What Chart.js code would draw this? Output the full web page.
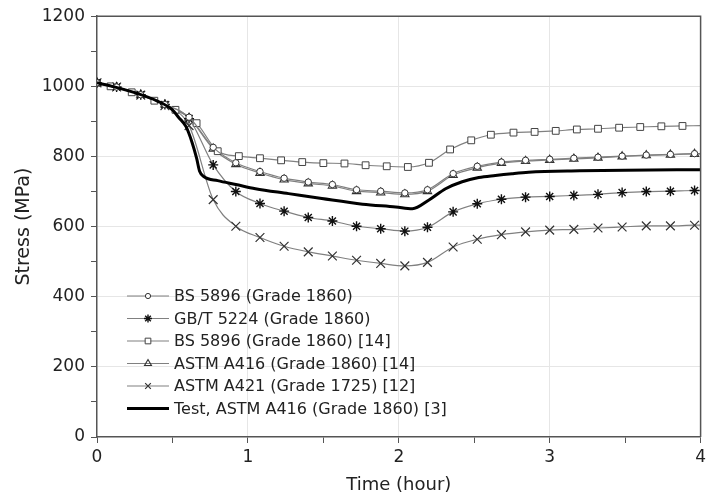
<!DOCTYPE html>
<html>
<head>
<meta charset="utf-8">
<script src="https://cdn.jsdelivr.net/npm/chart.js@4.4.1/dist/chart.umd.min.js"></script>
<style>
  html, body { margin: 0; padding: 0; background: #fff; }
  canvas { display: block; }
</style>
</head>
<body>
<canvas id="relaxChart" width="708" height="499"></canvas>
<script>
// tempos (h) dos modelos com marcadores
const hoursModel = [0, 0.13, 0.29, 0.45, 0.61, 0.77, 0.92, 1.08, 1.24, 1.40, 1.56, 1.72, 1.88, 2.04, 2.19, 2.36, 2.52, 2.68, 2.84, 3.00, 3.16, 3.32, 3.48, 3.64, 3.80, 3.96, 4.00];
const hoursSquare = [0, 0.09, 0.23, 0.38, 0.52, 0.66, 0.80, 0.94, 1.08, 1.22, 1.36, 1.50, 1.64, 1.78, 1.92, 2.06, 2.20, 2.34, 2.48, 2.61, 2.76, 2.90, 3.04, 3.18, 3.32, 3.46, 3.60, 3.74, 3.88, 4.00];
const hoursTest = [0, 0.1, 0.25, 0.4, 0.5, 0.54, 0.59, 0.63, 0.66, 0.68, 0.71, 0.8, 0.92, 1.05, 1.27, 1.49, 1.76, 1.98, 2.09, 2.2, 2.31, 2.42, 2.53, 2.64, 2.75, 2.86, 3.2, 3.5, 4.0];

// tensões (MPa)
const bs5896 = [1010, 998, 976, 948, 912, 826, 782, 757, 738, 727, 720, 705, 701, 696, 705, 751, 772, 784, 789, 792, 795, 798, 801, 804, 806, 808, 808];
const gbt5224 = [1010, 998, 976, 948, 908, 776, 700, 666, 644, 626, 616, 601, 594, 587, 598, 642, 665, 678, 684, 686, 689, 692, 697, 700, 701, 703, 703];
const bs5896Ref14 = [1010, 1000, 983, 959, 933, 895, 815, 801, 795, 789, 784, 781, 780, 775, 772, 770, 782, 820, 846, 862, 868, 870, 873, 877, 879, 882, 884, 886, 887, 888];
const astmA416 = [1010, 998, 976, 948, 910, 822, 778, 753, 734, 723, 716, 701, 697, 692, 701, 747, 768, 781, 787, 790, 793, 796, 800, 803, 805, 807, 807];
const astmA421 = [1010, 998, 975, 945, 888, 677, 601, 569, 544, 528, 516, 504, 495, 488, 498, 542, 564, 577, 585, 590, 592, 596, 599, 602, 602, 604, 604];
const testA416 = [1010, 1000, 982, 958, 933, 912, 885, 840, 795, 758, 742, 731, 720, 708, 694, 680, 664, 656, 651, 676, 708, 728, 740, 746, 751, 755, 759, 761, 762];

const seriesLabels = [
  'BS 5896 (Grade 1860)',
  'GB/T 5224 (Grade 1860)',
  'BS 5896 (Grade 1860) [14]',
  'ASTM A416 (Grade 1860) [14]',
  'ASTM A421 (Grade 1725) [12]',
  'Test, ASTM A416 (Grade 1860) [3]'
];
const xTickLabels = ['0', '1', '2', '3', '4'];

const FONT = "'DejaVu Sans', sans-serif";
const TXT = '#222';

const pts = (xs, ys) => xs.map((x, i) => ({ x: x, y: ys[i] }));

// estilo comum das curvas de modelo
function modelSet(label, xs, ys, style, radius, fill, border, bw) {
  return {
    label: label,
    data: pts(xs, ys),
    borderColor: '#808080',
    borderWidth: 1.2,
    pointStyle: style,
    pointRadius: ctx => (ctx.raw && ctx.raw.x >= 4 ? 0 : radius),
    pointBackgroundColor: fill,
    pointBorderColor: border,
    pointBorderWidth: bw,
    cubicInterpolationMode: 'monotone',
    order: 1
  };
}

const datasets = [
  modelSet(seriesLabels[0], hoursModel, bs5896, 'circle', 3.2, '#fff', '#333', 1),
  modelSet(seriesLabels[1], hoursModel, gbt5224, 'star', 5, '#111', '#111', 1.4),
  modelSet(seriesLabels[2], hoursSquare, bs5896Ref14, 'rect', 4.8, '#fff', '#444', 1),
  modelSet(seriesLabels[3], hoursModel, astmA416, 'triangle', 4.8, 'rgba(255,255,255,0)', '#333', 1.1),
  modelSet(seriesLabels[4], hoursModel, astmA421, 'crossRot', 6.2, '#333', '#333', 1.2),
  {
    label: seriesLabels[5],
    data: pts(hoursTest, testA416),
    borderColor: '#000',
    borderWidth: 3,
    pointRadius: 0,
    cubicInterpolationMode: 'monotone',
    order: 0
  }
];

// legenda desenhada dentro da área do gráfico + moldura superior/direita
const framePlugin = {
  id: 'frameLegend',
  afterDraw(chart) {
    const c = chart.ctx;
    const a = chart.chartArea;
    c.save();
    c.strokeStyle = '#555';
    c.lineWidth = 1.5;
    c.beginPath();
    c.moveTo(a.left, a.top);
    c.lineTo(a.right, a.top);
    c.lineTo(a.right, a.bottom);
    c.stroke();

    const x0 = 127, x1 = 169, tx = 174, y0 = 296, dy = 22.5;
    chart.data.datasets.forEach((ds, i) => {
      const y = y0 + i * dy;
      c.strokeStyle = ds.borderColor;
      c.lineWidth = ds.borderWidth;
      c.beginPath();
      c.moveTo(x0, y);
      c.lineTo(x1, y);
      c.stroke();
      if (ds.pointStyle) {
        c.fillStyle = ds.pointBackgroundColor;
        c.strokeStyle = ds.pointBorderColor;
        c.lineWidth = ds.pointBorderWidth;
        const r = ds.pointStyle === 'circle' ? 2.6 : 4;
        Chart.helpers.drawPoint(c, { pointStyle: ds.pointStyle, radius: r, rotation: 0, borderWidth: ds.pointBorderWidth }, (x0 + x1) / 2, y);
      }
      c.fillStyle = TXT;
      c.font = '16px ' + FONT;
      c.textBaseline = 'middle';
      c.textAlign = 'left';
      c.fillText(ds.label, tx, y + 1);
    });
    c.restore();
  }
};

const ctx = document.getElementById('relaxChart').getContext('2d');

const relaxChart = new Chart(ctx, {
  type: 'line',
  data: { datasets: datasets },
  options: {
    responsive: false,
    animation: false,
    devicePixelRatio: 1,
    layout: { padding: { top: 6, right: 0, bottom: 0, left: 0 } },
    plugins: {
      legend: { display: false },
      tooltip: { enabled: false }
    },
    scales: {
      x: {
        type: 'linear',
        min: 0,
        max: 4,
        afterFit: s => { s.height = 62; s.paddingRight = 4; },
        ticks: {
          stepSize: 0.5,
          autoSkip: false,
          maxRotation: 0,
          padding: 4,
          color: TXT,
          font: { family: FONT, size: 17 },
          callback: v => (Number.isInteger(v) ? xTickLabels[v] : '')
        },
        grid: {
          color: c => (c.tick && Number.isInteger(c.tick.value) && c.tick.value > 0 && c.tick.value < 4 ? '#e6e6e6' : 'rgba(0,0,0,0)'),
          tickColor: '#555',
          tickLength: 6,
          lineWidth: 1
        },
        border: { display: true, color: '#555', width: 1.5 },
        title: {
          display: true,
          text: 'Time (hour)',
          color: TXT,
          font: { family: FONT, size: 18 },
          padding: { top: 0, bottom: 3 }
        }
      },
      y: {
        min: 0,
        max: 1200,
        afterFit: s => { s.width = 97; },
        ticks: {
          stepSize: 100,
          autoSkip: false,
          padding: 6,
          color: TXT,
          font: { family: FONT, size: 17 },
          callback: v => (v % 200 === 0 ? String(v) : '')
        },
        grid: {
          color: c => (c.tick && c.tick.value % 200 === 0 && c.tick.value > 0 && c.tick.value < 1200 ? '#e6e6e6' : 'rgba(0,0,0,0)'),
          tickColor: '#555',
          tickLength: 6,
          lineWidth: 1
        },
        border: { display: true, color: '#555', width: 1.5 },
        title: {
          display: true,
          text: 'Stress (MPa)',
          color: TXT,
          font: { family: FONT, size: 19 },
          padding: { top: 13, bottom: 0 }
        }
      }
    }
  },
  plugins: [framePlugin]
});
</script>
</body>
</html>
